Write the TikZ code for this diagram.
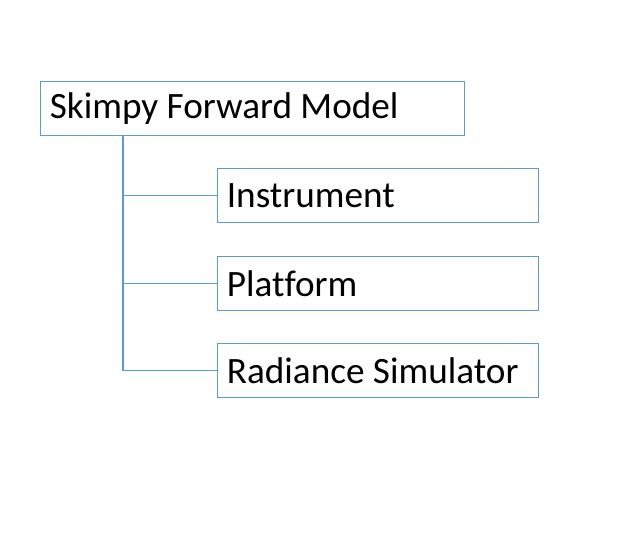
\documentclass[tikz,border=0pt]{standalone}
\usepackage{fontspec}
\setmainfont[Ligatures=NoCommon]{Carlito}
\definecolor{boxblue}{HTML}{5B9BD5}
\begin{document}
\begin{tikzpicture}[x=0.75pt,y=-0.75pt,
  itembox/.style={draw=boxblue,line width=0.8pt,anchor=north west,inner xsep=7pt,inner ysep=0pt,
    minimum height=40.5pt,align=flush left,font=\fontsize{27.9}{32}\selectfont},
  rootbox/.style={itembox,text width=318pt-14pt},
  childbox/.style={itembox,text width=240.75pt-14pt},
  link/.style={draw=boxblue,line width=0.8pt}]
\useasboundingbox (0,0) rectangle (634,537);
\node[rootbox] (root) at (40,81) {Skimpy Forward Model};
\node[childbox] (inst) at (217,168) {Instrument};
\node[childbox] (plat) at (217,256) {Platform};
\node[childbox] (rad) at (217,343) {Radiance Simulator};
\coordinate (top) at (123,135);
\draw[link] (top) -- (top |- rad.west) -- (rad.west);
\draw[link] (top |- inst.west) -- (inst.west);
\draw[link] (top |- plat.west) -- (plat.west);
\end{tikzpicture}
\end{document}
